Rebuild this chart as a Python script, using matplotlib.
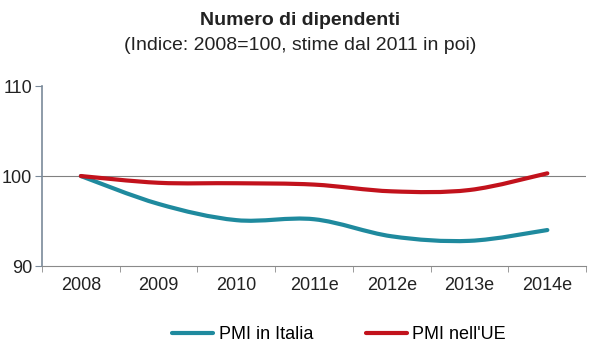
import matplotlib
matplotlib.use('Agg')
import matplotlib.pyplot as plt
import numpy as np
from matplotlib.path import Path
from matplotlib.patches import PathPatch
from matplotlib.lines import Line2D

plt.rcParams['font.family'] = ['Liberation Sans', 'DejaVu Sans']

# Data (index, 2008 = 100)
anni = ['2008', '2009', '2010', '2011e', '2012e', '2013e', '2014e']
pmi_italia = [100.0, 96.9, 95.1, 95.2, 93.3, 92.8, 94.0]
pmi_ue = [100.0, 99.25, 99.2, 99.05, 98.3, 98.45, 100.3]

col_italia = '#1f8a9e'
col_ue = '#c2121c'


def smooth_path(x, y, t=1/6):
    # Excel-like smoothed line: cubic Bezier segments through the points
    pts = np.column_stack([x, y]).astype(float)
    n = len(pts)
    verts = [pts[0]]
    codes = [Path.MOVETO]
    for i in range(n - 1):
        p0 = pts[i - 1] if i > 0 else pts[i]
        p1 = pts[i]
        p2 = pts[i + 1]
        p3 = pts[i + 2] if i + 2 < n else pts[i + 1]
        c1 = p1 + (p2 - p0) * t
        c2 = p2 - (p3 - p1) * t
        verts += [c1, c2, p2]
        codes += [Path.CURVE4] * 3
    return Path(verts, codes)


fig = plt.figure(figsize=(6, 3.6), dpi=100)
ax = fig.add_axes([0.07, 0.261, 0.907, 0.5])

x = np.arange(len(anni))
for serie, col in [(pmi_italia, col_italia), (pmi_ue, col_ue)]:
    patch = PathPatch(smooth_path(x, serie), facecolor='none', edgecolor=col,
                      lw=3, capstyle='round', zorder=3)
    ax.add_patch(patch)

ax.axhline(100, color='#808080', lw=0.8, zorder=1)

ax.set_xlim(-0.5, len(anni) - 0.5)
ax.set_ylim(90, 110)
ax.set_yticks([90, 100, 110])
ax.set_xticks(x)
ax.set_xticklabels(anni)
ax.set_xticks(np.arange(-0.5, len(anni), 1), minor=True)
ax.tick_params(axis='x', which='major', length=0, pad=8, labelsize=13, colors='#222222')
ax.tick_params(axis='x', which='minor', length=4, color='#8a8a8a', direction='out')
ax.tick_params(axis='y', length=5, labelsize=13, pad=2, colors='#7a8a9a',
               labelcolor='#222222')

for s in ['top', 'right']:
    ax.spines[s].set_visible(False)
ax.spines['left'].set_color('#7a8a9a')
ax.spines['left'].set_linewidth(1.2)
ax.spines['bottom'].set_color('#8a8a8a')
ax.spines['bottom'].set_linewidth(0.8)

fig.text(0.5, 0.944, 'Numero di dipendenti', ha='center', va='center',
         fontsize=14, fontweight='bold', color='#222222')
fig.text(0.5, 0.873, '(Indice: 2008=100, stime dal 2011 in poi)', ha='center',
         va='center', fontsize=14, color='#222222')

handles = [Line2D([], [], color=col_italia, lw=3, solid_capstyle='round'),
           Line2D([], [], color=col_ue, lw=3, solid_capstyle='round')]
fig.legend(handles, ['PMI in Italia', "PMI nell'UE"], loc='center',
           bbox_to_anchor=(0.565, 0.07), ncol=2, frameon=False, fontsize=13,
           handlelength=2.3, handletextpad=0.3, columnspacing=2.9)

fig.savefig('out.png', dpi=100)
